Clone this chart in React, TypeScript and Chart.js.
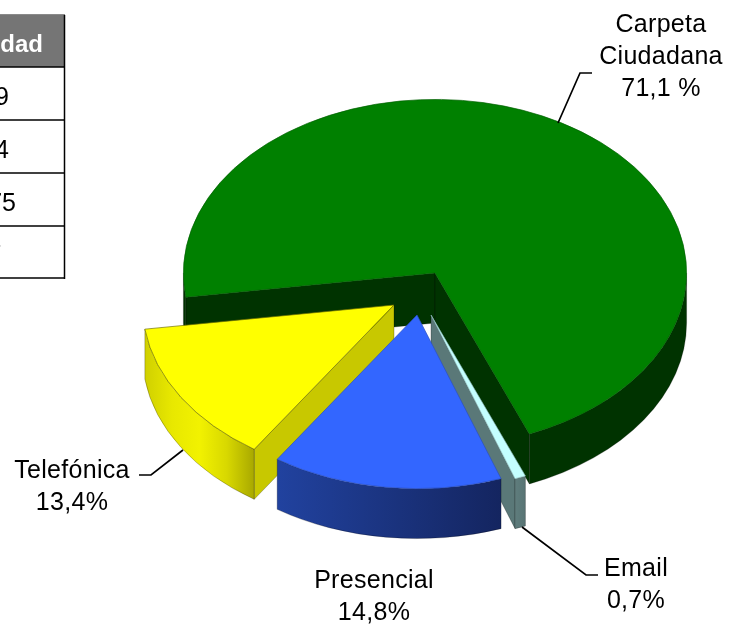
import React, { useEffect, useRef } from "react";
import { Chart, registerables } from "chart.js";

Chart.register(...registerables);

// --- data ---
const categories = ["Carpeta Ciudadana", "Email", "Presencial", "Telefónica"];
const shares = [71.1, 0.7, 14.8, 13.4];
const tableHeader = "Cantidad";
const tableCells = ["9", "4", "75", "7"];

// --- styles ---
const topColors = ["#008000", "#c4ffff", "#3366ff", "#ffff00"];
const edgeColors = ["#006000", "#8fbcbc", "#2a4fc0", "#6e6e00"];
const faceColors = ["#003300", "#5a7878", "#1a3080", "#c8c800"];
const wallStops = [
  ["#003300", "#003300"],
  ["#5f7d7d", "#587474"],
  ["#21429f", "#142560"],
  ["#d0d000", "#e8e800", "#f2f200", "#d8d800", "#a8a800"],
];
const sliceShift = [[0, 0], [-4, 42], [-18, 42], [-41, 32]];
const drawOrder = [0, 1, 3, 2];
const squash = 0.69;
const depth = 50;
const startRotation = 262;
const labelFont = "25px 'Liberation Sans', Arial, sans-serif";
const labelLines = [
  { lines: ["Carpeta", "Ciudadana", "71,1 %"], x: 661, y: 25 },
  { lines: ["Email", "0,7%"], x: 636, y: 569 },
  { lines: ["Presencial", "14,8%"], x: 374, y: 581 },
  { lines: ["Telefónica", "13,4%"], x: 72, y: 471 },
];
const leaders = [
  [[558, 123], [580, 73], [592, 73]],
  [[522, 527], [586, 575], [598, 575]],
  [[183, 450], [151, 475], [139, 475]],
];
const rowLines = [67, 120, 173, 226, 278];
const cellRight = [9, 9, 16, 1.5];
const cellBaseline = [105, 158, 211, 263];

const pie3d = {
  id: "pie3d",
  beforeDatasetsDraw(chart: any) {
    const ctx = chart.ctx as CanvasRenderingContext2D;
    const arcs = chart.getDatasetMeta(0).data as any[];
    const PI = Math.PI;
    for (const i of drawOrder) {
      const a = arcs[i];
      const [sx, sy] = sliceShift[i];
      const cx = a.x + sx;
      const cy = a.y + sy;
      const R = a.outerRadius;
      const rx = R;
      const ry = R * squash;
      const s = a.startAngle;
      const e = a.endAngle;
      const rim = (t: number) => [cx + rx * Math.cos(t), cy + ry * Math.sin(t)];

      // radial faces turned to the viewer
      const face = (t: number) => {
        const [px, py] = rim(t);
        ctx.beginPath();
        ctx.moveTo(cx, cy);
        ctx.lineTo(px, py);
        ctx.lineTo(px, py + depth);
        ctx.lineTo(cx, cy + depth);
        ctx.closePath();
        ctx.fillStyle = faceColors[i];
        ctx.fill();
        ctx.strokeStyle = "rgba(0,0,0,0.35)";
        ctx.lineWidth = 0.7;
        ctx.stroke();
      };
      if (Math.sin(s - PI / 2) > 0) face(s);
      if (Math.sin(e + PI / 2) > 0) face(e);

      // outer wall on the front half of the rim
      for (const k of [-2, 0, 2, 4]) {
        const lo = Math.max(s, k * PI);
        const hi = Math.min(e, (k + 1) * PI);
        if (hi <= lo) continue;
        const [x0] = rim(hi);
        const [x1] = rim(lo);
        const g = ctx.createLinearGradient(Math.min(x0, x1), 0, Math.max(x0, x1) + 0.01, 0);
        const stops = wallStops[i];
        stops.forEach((c, n) => g.addColorStop(n / (stops.length - 1), c));
        ctx.beginPath();
        ctx.ellipse(cx, cy, rx, ry, 0, lo, hi);
        ctx.ellipse(cx, cy + depth, rx, ry, 0, hi, lo, true);
        ctx.closePath();
        ctx.fillStyle = g;
        ctx.fill();
        ctx.strokeStyle = "rgba(0,0,0,0.35)";
        ctx.lineWidth = 0.7;
        ctx.stroke();
      }

      // top surface: the library's own arc, squashed
      ctx.save();
      ctx.translate(cx, cy);
      ctx.scale(1, squash);
      ctx.translate(-a.x, -a.y);
      a.draw(ctx);
      ctx.restore();
    }
    return false;
  },
  afterDraw(chart: any) {
    const ctx = chart.ctx as CanvasRenderingContext2D;
    ctx.save();

    // partly visible table at the left edge
    ctx.fillStyle = "#757575";
    ctx.fillRect(0, 15, 64, 52);
    ctx.strokeStyle = "#8a8a8a";
    ctx.lineWidth = 1;
    ctx.beginPath();
    ctx.moveTo(0, 14.5);
    ctx.lineTo(65, 14.5);
    ctx.stroke();
    ctx.strokeStyle = "#000";
    ctx.lineWidth = 1.5;
    rowLines.forEach((y) => {
      ctx.beginPath();
      ctx.moveTo(0, y);
      ctx.lineTo(65, y);
      ctx.stroke();
    });
    ctx.beginPath();
    ctx.moveTo(64.5, 15);
    ctx.lineTo(64.5, 279);
    ctx.stroke();
    ctx.textAlign = "right";
    ctx.textBaseline = "alphabetic";
    ctx.fillStyle = "#fff";
    ctx.font = "bold 24px 'Liberation Sans', Arial, sans-serif";
    ctx.fillText(tableHeader, 43, 52);
    ctx.fillStyle = "#000";
    ctx.font = labelFont;
    tableCells.forEach((t, i) => ctx.fillText(t, cellRight[i], cellBaseline[i]));

    // leader lines
    ctx.strokeStyle = "#000";
    ctx.lineWidth = 1.7;
    leaders.forEach((pts) => {
      ctx.beginPath();
      pts.forEach(([x, y], n) => (n ? ctx.lineTo(x, y) : ctx.moveTo(x, y)));
      ctx.stroke();
    });

    // labels
    ctx.fillStyle = "#000";
    ctx.font = labelFont;
    (ctx as any).letterSpacing = "0.3px";
    ctx.textAlign = "center";
    ctx.textBaseline = "middle";
    labelLines.forEach(({ lines, x, y }) => {
      lines.forEach((t, n) => ctx.fillText(t, x, y + n * 32));
    });
    ctx.restore();
  },
};

export default function App() {
  const ref = useRef<HTMLCanvasElement | null>(null);
  useEffect(() => {
    const chart = new Chart(ref.current as HTMLCanvasElement, {
      type: "pie",
      data: {
        labels: categories,
        datasets: [
          {
            data: shares,
            backgroundColor: topColors,
            borderColor: edgeColors,
            borderWidth: 0.8,
          },
        ],
      },
      options: {
        responsive: false,
        animation: false,
        rotation: startRotation,
        layout: { padding: { left: 183, right: 44, top: 21, bottom: 101 } },
        plugins: { legend: { display: false }, tooltip: { enabled: false } },
      },
      plugins: [pie3d],
    } as any);
    return () => chart.destroy();
  }, []);
  return (
    <canvas
      ref={ref}
      width={731}
      height={626}
      style={{ position: "absolute", left: 0, top: 0, background: "#fff" }}
    />
  );
}
